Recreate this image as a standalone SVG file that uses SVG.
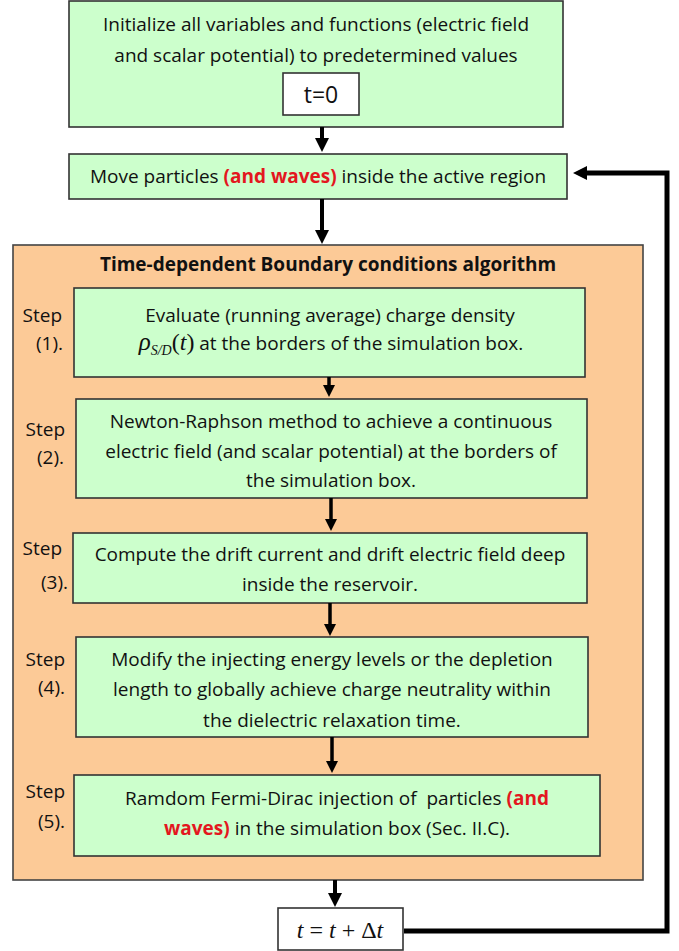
<svg xmlns="http://www.w3.org/2000/svg" width="679" height="951" viewBox="0 0 679 951">
<style>
text{font-family:"Open Sans","Liberation Sans",sans-serif;font-size:19px;fill:#111}
.c{text-anchor:middle}
.e{text-anchor:end}
.b{font-weight:bold}
.red{fill:#e3171e;font-weight:bold}
.g{fill:#ccffcc;stroke:#333;stroke-width:1.6}
.o{fill:#fcca97;stroke:#444;stroke-width:1.6}
.w{fill:#fff;stroke:#333;stroke-width:1.6}
.m{font-family:"Liberation Serif","Times New Roman",serif;font-style:italic}
.s{font-family:"Liberation Serif","Times New Roman",serif}
.ar{stroke:#000;stroke-width:4;fill:none;marker-end:url(#ah)}
.ar2{stroke:#000;stroke-width:3.5;fill:none;marker-end:url(#ah2)}
</style>
<defs>
<marker id="ah" markerUnits="userSpaceOnUse" viewBox="0 0 14 14" refX="5" refY="7" markerWidth="14" markerHeight="14" orient="auto">
<path d="M0,0 L14,7 L0,14 z" fill="#000"/>
</marker>
<marker id="ah2" markerUnits="userSpaceOnUse" viewBox="0 0 12 12" refX="4" refY="6" markerWidth="12" markerHeight="12" orient="auto">
<path d="M0,0 L12,6 L0,12 z" fill="#000"/>
</marker>
</defs>

<g id="init">
<rect class="g" x="69" y="1" width="494" height="126"/>
<text class="c" x="316" y="31">Initialize all variables and functions (electric field</text>
<text class="c" x="316" y="62">and scalar potential) to predetermined values</text>
<rect class="w" x="283" y="73" width="76" height="42"/>
<text class="c" x="321" y="103" style="font-size:23px">t=0</text>
</g>

<g id="move">
<rect class="g" x="69" y="154" width="498" height="45"/>
<text class="c" x="318" y="183">Move particles <tspan class="red">(and waves)</tspan> inside the active region</text>
</g>

<g id="algorithm">
<rect class="o" x="13" y="245" width="630" height="635"/>
<text class="c b" x="328" y="271">Time-dependent Boundary conditions algorithm</text>
</g>

<g id="step1">
<text class="e" x="62" y="322">Step</text>
<text class="e" x="63" y="350">(1).</text>
<rect class="g" x="74" y="288" width="511" height="89"/>
<text class="c" x="330" y="322">Evaluate (running average) charge density</text>
<text class="c" x="331" y="350"><tspan class="m" style="font-size:25px">ρ</tspan><tspan class="m" style="font-size:14px" dy="5">S/D</tspan><tspan class="s" style="font-size:24px" dy="-5">(</tspan><tspan class="m" style="font-size:24px">t</tspan><tspan class="s" style="font-size:24px">)</tspan> at the borders of the simulation box.</text>
</g>

<g id="step2">
<text class="e" x="65" y="436">Step</text>
<text class="e" x="64" y="464">(2).</text>
<rect class="g" x="76" y="399" width="511" height="99"/>
<text class="c" x="331" y="428">Newton-Raphson method to achieve a continuous</text>
<text class="c" x="331" y="458">electric field (and scalar potential) at the borders of</text>
<text class="c" x="331" y="487">the simulation box.</text>
</g>

<g id="step3">
<text class="e" x="62" y="555">Step</text>
<text class="e" x="68" y="589">(3).</text>
<rect class="g" x="73" y="533" width="514" height="70"/>
<text class="c" x="330" y="561">Compute the drift current and drift electric field deep</text>
<text class="c" x="330" y="591">inside the reservoir.</text>
</g>

<g id="step4">
<text class="e" x="65" y="666">Step</text>
<text class="e" x="65" y="694">(4).</text>
<rect class="g" x="76" y="637" width="512" height="100"/>
<text class="c" x="332" y="666">Modify the injecting energy levels or the depletion</text>
<text class="c" x="332" y="696">length to globally achieve charge neutrality within</text>
<text class="c" x="332" y="727">the dielectric relaxation time.</text>
</g>

<g id="step5">
<text class="e" x="65" y="798">Step</text>
<text class="e" x="65" y="828">(5).</text>
<rect class="g" x="74" y="775" width="526" height="81"/>
<text class="c" x="337" y="805" style="white-space:pre">Ramdom Fermi-Dirac injection of  particles <tspan class="red">(and</tspan></text>
<text class="c" x="337" y="835"><tspan class="red">waves)</tspan> in the simulation box (Sec. II.C).</text>
</g>

<g id="tstep">
<rect class="w" x="278" y="908" width="125" height="42"/>
<text class="c" x="340" y="938"><tspan class="m" style="font-size:24px">t</tspan><tspan class="s" style="font-size:24px"> = </tspan><tspan class="m" style="font-size:24px">t</tspan><tspan class="s" style="font-size:24px"> + Δ</tspan><tspan class="m" style="font-size:24px">t</tspan></text>
</g>

<g id="connectors">
<line class="ar" x1="322" y1="127" x2="322" y2="143"/>
<line class="ar" x1="322" y1="199" x2="322" y2="235"/>
<line class="ar2" x1="329" y1="377" x2="329" y2="389"/>
<line class="ar2" x1="331" y1="498" x2="331" y2="523"/>
<line class="ar2" x1="330" y1="603" x2="330" y2="628"/>
<line class="ar2" x1="332" y1="737" x2="332" y2="765"/>
<line class="ar" x1="335" y1="880" x2="335" y2="898"/>
<polyline class="ar" style="stroke-width:5" points="404,931 667,931 667,173 582,173"/>
</g>
</svg>
